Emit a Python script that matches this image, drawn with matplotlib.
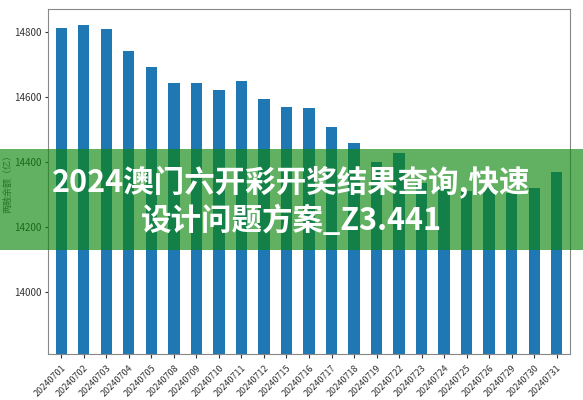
import matplotlib
matplotlib.use("Agg")
import matplotlib.pyplot as plt
from matplotlib.patches import Rectangle

plt.rcParams['font.family'] = ['Noto Sans CJK SC', 'DejaVu Sans']

dates = ["20240701", "20240702", "20240703", "20240704", "20240705", "20240708",
         "20240709", "20240710", "20240711", "20240712", "20240715", "20240716",
         "20240717", "20240718", "20240719", "20240722", "20240723", "20240724",
         "20240725", "20240726", "20240729", "20240730", "20240731"]
balance = [14813, 14821, 14810, 14742, 14694, 14644,
           14642, 14622, 14650, 14595, 14568, 14565,
           14508, 14459, 14400, 14427, 14335, 14325,
           14310, 14320, 14305, 14320, 14370]

banner_line1 = "2024澳门六开彩开奖结果查询,快速"
banner_line2 = "设计问题方案_Z3.441"

fig = plt.figure(figsize=(5.83, 4.0), dpi=100)
ax = fig.add_axes([0.082, 0.115, 0.896, 0.862])

x = range(len(dates))
ax.bar(x, balance, width=0.5, color="#1f77b4")
ax.set_xlim(-0.6, len(dates) - 0.4)
ax.set_ylim(13808, 14871)
ax.set_yticks([14000, 14200, 14400, 14600, 14800])
ax.set_xticks(list(x))
ax.set_xticklabels(dates, rotation=45, ha="right", rotation_mode="anchor", fontsize=6.5)
ax.tick_params(axis="y", labelsize=7, colors="#333333", length=2.5, pad=2)
ax.tick_params(axis="x", colors="#333333", length=3)
ax.set_ylabel("两融余额（亿）", fontsize=6.5, color="#555555")
ax.yaxis.set_label_coords(-0.068, 0.5)
for s in ax.spines.values():
    s.set_color("#888888")

# green overlay banner with title text
fig.patches.append(Rectangle((0, 1 - 250 / 400), 1, 101 / 400, transform=fig.transFigure,
                             facecolor="#0e860e", alpha=0.65, edgecolor="none", zorder=5))
fig.text(0.5, 1 - 183 / 400, banner_line1, ha="center", va="center", color="white",
         fontsize=22, fontweight="bold", zorder=6)
fig.text(0.5, 1 - 221 / 400, banner_line2, ha="center", va="center", color="white",
         fontsize=22, fontweight="bold", zorder=6)

fig.savefig("out.png", dpi=100)
